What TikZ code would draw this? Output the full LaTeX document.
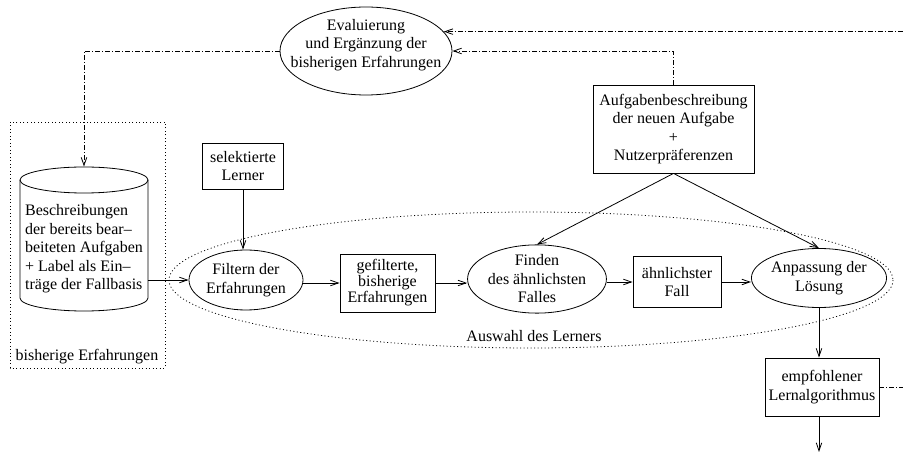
\documentclass[tikz,border=0pt]{standalone}
\usepackage{fontspec}
\setmainfont{Liberation Serif}
\usetikzlibrary{shapes.geometric,arrows.meta}
\begin{document}
\begin{tikzpicture}[x=1pt,y=-1pt,
  font=\fontsize{16}{18.5}\selectfont,
  every node/.style={inner sep=0pt, line width=0.8pt},
  box/.style={draw, rectangle, align=center},
  oval/.style={draw, ellipse, align=center},
  flow/.style={line width=0.8pt, -{Straight Barb[length=8pt,width=5.5pt]}},
  feedback/.style={line width=0.8pt, dash pattern=on 5pt off 2pt on 1pt off 2pt},
  group/.style={line width=0.8pt, dash pattern=on 1pt off 2.5pt},
]
\useasboundingbox (0,0) rectangle (903,454);

% frame edges for the open connectors
\coordinate (edgeR) at (903,0);
\coordinate (edgeB) at (0,452);

% evaluation of the experience base
\node[oval, minimum width=172, minimum height=88] (eval) at (366,51) {};
\node[align=center] (evaltxt) at (366,45) {Evaluierung\\und Ergänzung der\\bisherigen Erfahrungen};

% new task description
\node[box, minimum width=161, minimum height=88] (task) at (673.5,129)
  {Aufgabenbeschreibung\\der neuen Aufgabe\\+\\Nutzerpräferenzen};

% case base (cylinder) inside its group
\draw[group] (10,122) rectangle (165,368);
\node (grouplbl) at (87,357) {bisherige Erfahrungen};
\node[minimum width=128, minimum height=144] (db) at (84,239) {};
\draw[line width=0.8pt] (84,180) ellipse [x radius=64, y radius=13];
\draw[line width=0.8pt] (20,180) -- (20,298)
  arc[start angle=180, end angle=0, x radius=64, y radius=13] -- (148,180);
\node[align=left] (dbtxt) at (84,249)
  {Beschreibungen\\der bereits bear–\\beiteten Aufgaben\\+ Label als Ein–\\träge der Fallbasis};

% selected learners
\node[box, minimum width=81, minimum height=46] (sel) at (243,166) {selektierte\\Lerner};

% learner selection
\draw[group] (531,280) ellipse [x radius=362, y radius=68];
\node (sellbl) at (534,336) {Auswahl des Lerners};

\node[oval, minimum width=114, minimum height=60] (filter) at (246,280) {Filtern der\\Erfahrungen};
\node[box, minimum width=95, minimum height=58, font=\fontsize{16}{16}\selectfont] (gef) at (387.5,283)
  {gefilterte,\\bisherige\\Erfahrungen};
\node[oval, minimum width=114, minimum height=63] (finden) at (537,279) {Finden\\des ähnlichsten\\Falles};
\node[box, minimum width=88, minimum height=51] (aehn) at (677,282) {ähnlichster\\Fall};
\node[oval, minimum width=116, minimum height=59] (anpass) at (819,278) {Anpassung der\\Lösung};

% recommendation
\node[box, minimum width=114, minimum height=58] (emp) at (822,387) {empfohlener\\Lernalgorithmus};

% main flow
\draw[flow] (sel.south) -- (sel.south |- filter.north);
\draw[flow] (db.east |- filter.west) -- (filter.west);
\draw[flow] (filter.east |- gef.west) -- (gef.west);
\draw[flow] (gef.east) -- (gef.east -| finden.west);
\draw[flow] (finden.east |- aehn.west) -- (aehn.west);
\draw[flow] (aehn.east) -- (aehn.east -| anpass.west);
\draw[flow] (task.south) -- (finden.north);
\draw[flow] (task.south) -- (anpass.north);
\draw[flow] (anpass.south) -- (anpass.south |- emp.north);
\draw[flow] (anpass.south |- emp.south) -- (anpass.south |- edgeB);

% feedback loops
\draw[feedback, -{Straight Barb[length=8pt,width=5.5pt]}] (eval.14 -| edgeR) -- (eval.14);
\draw[feedback, -{Straight Barb[length=8pt,width=5.5pt]}] (task.north) |- (eval.east);
\draw[feedback, -{Straight Barb[length=8pt,width=5.5pt]}] (eval.west) -| (db.north);
\draw[feedback] (emp.east) -- (emp.east -| edgeR);
\end{tikzpicture}
\end{document}
